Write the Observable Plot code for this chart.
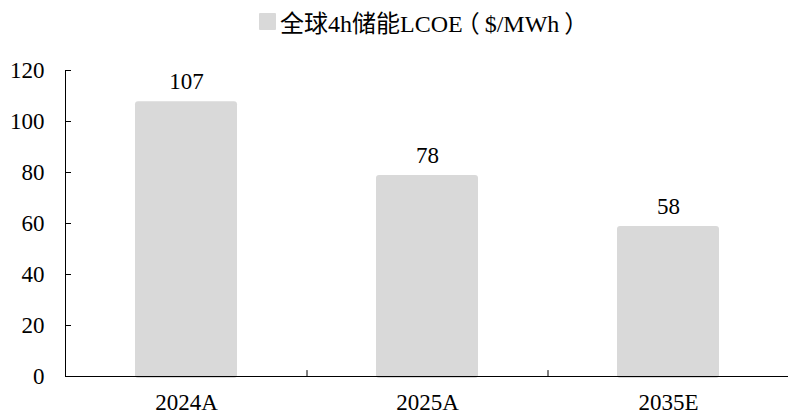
<!DOCTYPE html>
<html>
<head>
<meta charset="utf-8">
<script src="https://cdn.jsdelivr.net/npm/d3@7"></script>
<script src="https://cdn.jsdelivr.net/npm/@observablehq/plot@0.6"></script>
<style>
  html, body { margin: 0; padding: 0; background: #fff; }
  #chart { width: 788px; }
  .legend {
    height: 42px;
    display: flex;
    align-items: center;
    padding-left: 259px;
    box-sizing: border-box;
    font-family: "Liberation Serif", "Times New Roman", "Noto Sans CJK SC", serif;
    font-size: 24px;
    color: #000;
    white-space: nowrap;
  }
  .legend .swatch {
    width: 17px; height: 17px; background: #d9d9d9; margin-right: 4px;
    display: inline-block; border-radius: 1px;
  }
  .legend .paren { font-feature-settings: "halt"; }
  .legend .open { margin-left: 5px; margin-right: 5px; }
  .legend .close { margin-left: 5px; }
  svg { display: block; }
  svg text { font-family: "Liberation Serif", "Times New Roman", serif !important; }
</style>
</head>
<body>
<div id="chart"></div>
<script>
// Global 4-hour storage levelised cost of energy, $/MWh
const years = ["2024A", "2025A", "2035E"];
const lcoe = [107, 78, 58];
const yTicks = [0, 20, 40, 60, 80, 100, 120];
const seriesName = "全球4h储能LCOE";
const seriesUnit = "$/MWh";

const data = years.map((year, i) => ({year, value: lcoe[i]}));

const width = 788;
const height = 374;
const marginLeft = 65;
const marginRight = 0;
const step = (width - marginLeft - marginRight) / years.length;
const serif = "'Liberation Serif', 'Times New Roman', serif";
const fontSize = 23;

// a plain straight stroke, drawn upward from the anchor
const stem = {draw(context, l) { context.moveTo(0, 0); context.lineTo(0, -l); }};

const plot = Plot.plot({
  width,
  height,
  marginTop: 28,
  marginBottom: 40,
  marginLeft,
  marginRight,
  style: {fontFamily: serif, fontSize: `${fontSize}px`, color: "#000", background: "#fff"},
  x: {domain: years, paddingInner: 0.577, paddingOuter: 0.2885, label: null},
  y: {domain: [0, 120], label: null},
  marks: [
    Plot.barY(data, {
      x: "year", y: "value", fill: "#d9d9d9",
      rx: 3, insetTop: -2, insetBottom: -2, insetLeft: 0, insetRight: 0
    }),
    Plot.frame({anchor: "left", stroke: "#000"}),
    Plot.ruleY([0], {stroke: "#000", strokeWidth: 1.2}),
    Plot.axisY({
      ticks: yTicks, tickSize: -6, tickPadding: 27, tickFormat: d => d,
      fontSize, stroke: "#000", label: null
    }),
    Plot.axisX({tickSize: 0, tickPadding: 17, fontSize, label: null}),
    // separators between categories on the baseline
    Plot.vector(years, {
      x: d => d, y: 0, length: 6, rotate: 0, anchor: "start", shape: stem,
      dx: step / 2, stroke: "#000", strokeWidth: 1
    }),
    Plot.text(data, {
      x: "year", y: "value", text: d => String(d.value),
      dy: -15, lineAnchor: "bottom", fontSize, fill: "#000"
    })
  ]
});

const legend = document.createElement("div");
legend.className = "legend";
legend.innerHTML = `<span class="swatch"></span><span>${seriesName}<span class="paren open">（</span>${seriesUnit}<span class="paren close">）</span></span>`;

const root = document.getElementById("chart");
root.appendChild(legend);
root.appendChild(plot);
</script>
</body>
</html>
